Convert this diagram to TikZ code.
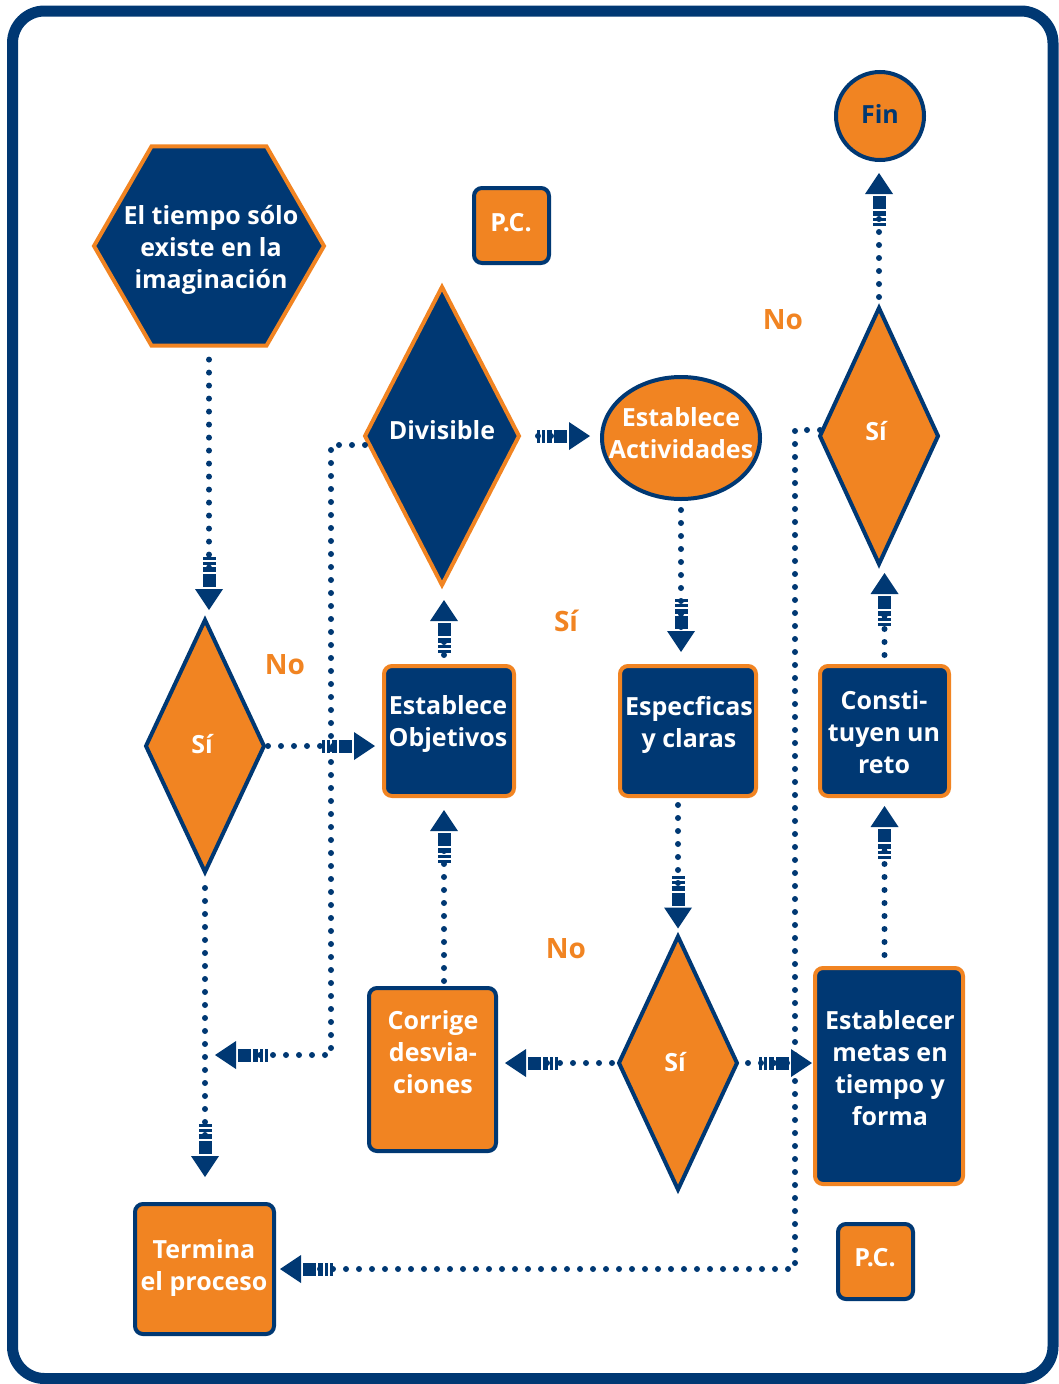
\documentclass[tikz,border=0pt]{standalone}
\usepackage{fontspec}
\setmainfont{Open Sans}
\usetikzlibrary{shapes.geometric,arrows.meta}
\definecolor{myblue}{RGB}{0,56,115}
\definecolor{myorange}{RGB}{241,132,34}
\tikzset{
  blk/.tip={Rectangle[length=3pt,width=13pt,line width=0pt,sep=2pt]
            Rectangle[length=3pt,width=13pt,line width=0pt,sep=2pt]
            Rectangle[length=5pt,width=13pt,line width=0pt,sep=2pt]
            Rectangle[length=13pt,width=13pt,line width=0pt,sep=2pt]
            Triangle[length=21pt,width=28pt,line width=0pt,sep=0pt]},
}
\begin{document}
\begin{tikzpicture}[x=1pt,y=-1pt,
  every node/.style={inner sep=0pt,outer sep=0pt},
  bshape/.style={fill=myblue,draw=myorange,line width=4pt},
  oshape/.style={fill=myorange,draw=myblue,line width=4pt},
  rbox/.style={rectangle,rounded corners=8pt,minimum width=#1},
  dmd/.style={diamond,minimum width=118pt,minimum height=#1},
  txt/.style={font=\bfseries\fontsize{25}{32}\selectfont,text=white,align=center},
  lbl/.style={font=\bfseries\fontsize{28}{32}\selectfont,text=myorange},
  conn/.style={draw=myblue,line width=6pt,line cap=round,dash pattern=on 0pt off 13pt,-{blk}},
]
\useasboundingbox (0,0) rectangle (1059,1384);
\draw[myblue,line width=11pt,rounded corners=32pt] (12.5,11) rectangle (1053,1378.5);

% shapes
\node[bshape,regular polygon,regular polygon sides=6,minimum size=230pt] (hex) at (209,246) {};
\node[oshape,rbox=75pt,minimum height=75pt] (pc1) at (511.5,225.5) {};
\node[oshape,circle,minimum size=88pt] (fin) at (880,116) {};
\node[bshape,diamond,minimum width=154pt,minimum height=298pt] (div) at (442,436) {};
\node[oshape,ellipse,minimum width=158pt,minimum height=122pt] (act) at (681,438) {};
\node[oshape,dmd=256pt] (sir) at (879,436) {};
\node[oshape,dmd=252pt] (sil) at (205,746) {};
\node[bshape,rbox=130pt,minimum height=130pt] (obj) at (449,731) {};
\node[bshape,rbox=136pt,minimum height=130pt] (esp) at (688,731) {};
\node[bshape,rbox=129pt,minimum height=130pt] (con) at (884.5,731) {};
\node[oshape,rbox=127pt,minimum height=163pt] (cor) at (432.5,1069.5) {};
\node[oshape,dmd=253pt] (sib) at (678,1063) {};
\node[bshape,rbox=148pt,minimum height=216pt] (met) at (889,1076) {};
\node[oshape,rbox=139pt,minimum height=130pt] (term) at (204.5,1269) {};
\node[oshape,rbox=75pt,minimum height=75pt] (pc2) at (875.5,1261.5) {};

% texts
\node[txt] (t-hex) at (211,250) {El tiempo sólo\\existe en la\\imaginación};
\node[txt] (t-pc1) at (511,223) {P.C.};
\node[txt,text=myblue] (t-fin) at (880,114) {Fin};
\node[txt] (t-div) at (442,430) {Divisible};
\node[txt] (t-act) at (681,433) {Establece\\Actividades};
\node[txt] (t-sir) at (876,431) {Sí};
\node[txt] (t-sil) at (202,744) {Sí};
\node[txt] (t-obj) at (448,724) {Establece\\Objetivos};
\node[txt] (t-esp) at (689,725) {Especficas\\y claras};
\node[txt] (t-con) at (884,732) {Consti-\\tuyen un\\reto};
\node[txt] (t-cor) at (433,1052) {Corrige\\desvia-\\ciones};
\node[txt] (t-sib) at (675,1062) {Sí};
\node[txt] (t-met) at (890,1068) {Establecer\\metas en\\tiempo y\\forma};
\node[txt] (t-term) at (204,1268) {Termina\\el proceso};
\node[txt] (t-pc2) at (875,1258) {P.C.};
\node[lbl] (no1) at (783,320) {No};
\node[lbl] (no2) at (285,665) {No};
\node[lbl] (si1) at (566,621) {Sí};
\node[lbl] (no3) at (566,949) {No};

% free end
\coordinate (joinE) at (207,1055);

% connectors
\draw[conn,shorten <=14pt,shorten >=10pt] (hex.south) -- (hex.south |- sil.north);
\draw[conn,shorten <=4pt,shorten >=9pt] (sil.east) -- (sil.east -| obj.west);
\draw[conn,shorten <=16pt,shorten >=27pt] (sil.south) -- (sil.south |- term.north);
\draw[conn,shorten <=11pt,shorten >=15pt] ([xshift=-5pt]obj.north) -- ([xshift=-5pt]obj.north |- div.south);
\draw[conn,shorten >=8pt] ([yshift=-9pt]div.west) -- ++(-34,0) |- (joinE);
\draw[conn,shorten <=19pt,shorten >=12pt] (div.east) -- (div.east -| act.west);
\draw[conn,shorten <=11pt,shorten >=14pt] (act.south) -- (act.south |- esp.north);
\draw[conn,shorten <=9pt,shorten >=8pt] (sib.north |- esp.south) -- (sib.north);
\draw[conn,shorten <=7pt,shorten >=9pt] (sib.west) -- (sib.west -| cor.east);
\draw[conn,shorten <=7pt,shorten >=14pt] ([xshift=-5pt]obj.south |- cor.north) -- ([xshift=-5pt]obj.south);
\draw[conn,shorten <=11pt,shorten >=3pt] (sib.east) -- (sib.east -| met.west);
\draw[conn,shorten <=13pt,shorten >=10pt] (con.south |- met.north) -- (con.south);
\draw[conn,shorten <=11pt,shorten >=9pt] (con.north) -- (con.north |- sir.south);
\draw[conn,shorten <=11pt,shorten >=13pt] (sir.north) -- (sir.north |- fin.south);
\draw[conn,shorten >=6pt] ([yshift=6pt]sir.west) -- ++(-25,0) |- (term.east);
\end{tikzpicture}
\end{document}
